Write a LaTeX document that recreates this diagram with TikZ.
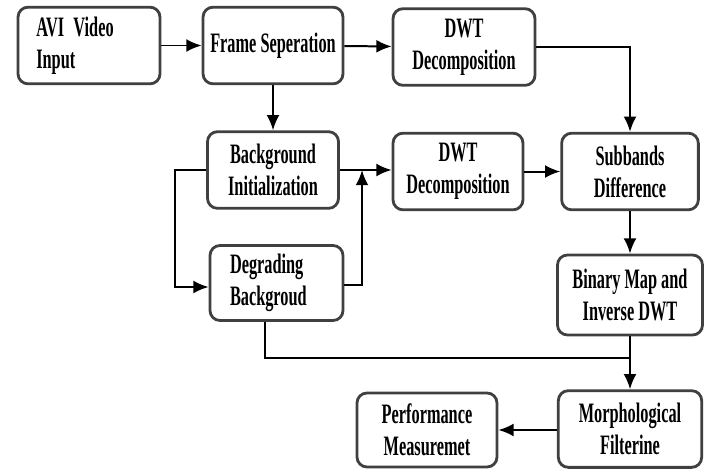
\documentclass[tikz,border=0pt]{standalone}
\usepackage{fontspec}
\setmainfont{Liberation Serif}[FakeStretch=0.62,BoldFeatures={FakeStretch=0.58}]
\usetikzlibrary{arrows}
\usetikzlibrary{arrows.meta}
\usetikzlibrary{positioning}

\begin{document}
\begin{tikzpicture}[x=0.03cm, y=-0.03cm,
    blk/.style={draw=black!75, line width=2.4pt, rounded corners=0.3cm, fill=white,
        minimum height=2.3cm, align=center, font=\fontsize{24}{27.5}\selectfont\bfseries},
    flow/.style={-{Latex[length=13pt,width=11pt]}, line width=1.7pt}]
    \useasboundingbox (0,0) rectangle (708,470);
    \node[blk, align=left, inner xsep=0.55cm, text width=3.16cm] (avi) at (89,45.5) {AVI Video\\Input};
    \node[blk, minimum width=4.2cm] (frame) at (273,45.5) {Frame Seperation};
    \node[blk, minimum width=4.26cm] (dwta) at (464,47) {DWT\\Decomposition};
    \node[blk, minimum width=3.93cm] (bgi) at (273,170) {Background\\Initialization};
    \node[blk, minimum width=3.9cm] (dwtb) at (458,171.5) {DWT\\Decomposition};
    \node[blk, minimum width=4.1cm] (sub) at (630,171.5) {Subbands\\Difference};
    \node[blk, align=left, inner xsep=0.6cm, text width=2.79cm, minimum height=2.25cm] (deg) at (276.5,283) {Degrading\\Backgroud};
    \node[blk, minimum width=4.35cm, minimum height=2.4cm] (bin) at (630,295) {Binary Map and\\Inverse DWT};
    \node[blk, minimum width=4.3cm] (morph) at (630,429) {Morphological\\Filterine};
    \node[blk, minimum width=4.2cm, minimum height=2.22cm] (perf) at (427,430) {Performance\\Measuremet};

    \coordinate (jn) at (362,170);
    \coordinate (jb) at (630,358);

    \draw[flow] (avi) -- (frame);
    \draw[flow] (frame) -- (dwta);
    \draw[flow] (dwta.east) -| (sub.north);
    \draw[flow] (frame) -- (bgi);
    \draw[flow] (bgi.east) -- (bgi.east -| dwtb.west);
    \draw[flow] (deg.east |- 0,285) -| (jn);
    \draw[flow] (bgi.west) -- ++(-31,0) |- (deg.west |- 0,287);
    \draw[flow] (dwtb) -- (sub);
    \draw[flow] (sub) -- (bin);
    \draw[flow] (bin) -- (morph);
    \draw[line width=1.7pt] ([xshift=-0.34cm]deg.south) |- (jb);
    \draw[flow] (morph.west |- perf) -- (perf);
\end{tikzpicture}
\end{document}
